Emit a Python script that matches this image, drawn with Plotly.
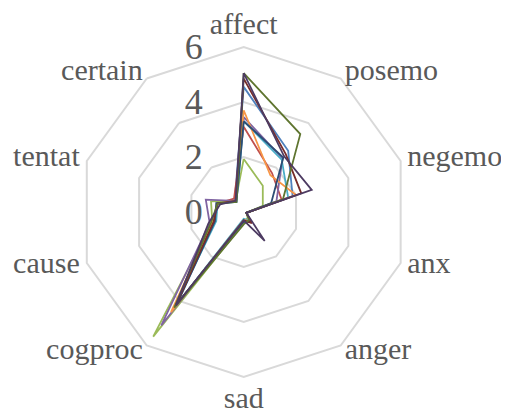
import plotly.graph_objects as go

categories = ["affect", "posemo", "negemo", "anx", "anger", "sad",
              "cogproc", "cause", "tentat", "certain"]

# one list per series, in category order
s_blue = [4.55, 2.75, 1.87, 0.1, 0.35, 0.3, 4.3, 1.1, 1.0, 0.55]
s_red = [3.1, 1.75, 1.45, 0.1, 0.45, 0.3, 4.2, 1.15, 1.0, 0.6]
s_green = [1.93, 1.18, 0.73, 0.1, 0.25, 0.4, 5.6, 1.2, 1.25, 0.5]
s_purple = [3.45, 2.4, 1.25, 0.1, 0.35, 0.3, 5.1, 1.3, 1.45, 0.5]
s_aqua = [3.3, 2.35, 1.7, 0.1, 0.4, 0.25, 4.3, 1.05, 1.0, 0.45]
s_orange = [3.7, 1.65, 2.0, 0.1, 0.4, 0.3, 4.5, 1.2, 1.0, 0.5]
s_darkblue = [3.3, 2.45, 1.05, 0.1, 0.45, 0.35, 4.1, 1.1, 1.05, 0.45]
s_darkred = [4.85, 2.6, 2.2, 0.1, 0.5, 0.3, 4.2, 1.15, 1.0, 0.5]
s_darkgreen = [5.05, 3.5, 1.5, 0.1, 0.35, 0.45, 4.3, 1.25, 1.0, 0.45]
s_darkpurple = [5.05, 2.5, 2.6, 0.1, 1.3, 0.3, 4.2, 1.35, 0.9, 0.5]

series = [
    (s_blue, "#4F81BD"),
    (s_red, "#C0504D"),
    (s_green, "#9BBB59"),
    (s_purple, "#8064A2"),
    (s_aqua, "#4BACC6"),
    (s_orange, "#F79646"),
    (s_darkblue, "#2C4D75"),
    (s_darkred, "#772C2A"),
    (s_darkgreen, "#5F7530"),
    (s_darkpurple, "#4D3B62"),
]

fig = go.Figure()
for vals, col in series:
    fig.add_trace(go.Scatterpolar(
        r=vals + vals[:1],
        theta=categories + categories[:1],
        mode="lines",
        line=dict(color=col, width=1.8),
        showlegend=False,
        hoverinfo="skip",
    ))

# category labels, placed like Excel does: just outside the outer vertex
label_r = [6.75, 6.25, 6.25, 6.25, 6.25, 6.85, 6.25, 6.27, 6.27, 6.25]
label_pos = ["middle center", "middle right", "middle right", "middle right",
             "middle right", "middle center", "middle left", "middle left",
             "middle left", "middle left"]
fig.add_trace(go.Scatterpolar(
    r=label_r,
    theta=categories,
    mode="text",
    text=categories,
    textposition=label_pos,
    textfont=dict(size=30, color="#595959", family="Liberation Serif"),
    cliponaxis=False,
    showlegend=False,
    hoverinfo="skip",
))

fig.update_layout(
    width=509,
    height=417,
    margin=dict(l=0, r=0, t=0, b=0),
    paper_bgcolor="white",
    plot_bgcolor="white",
    font=dict(family="Liberation Serif", color="#595959"),
    polar=dict(
        # radius is set by the x span; y span is taller so nothing clips
        domain=dict(x=[0.0849, 0.8413], y=[0.0216, 1.0]),
        bgcolor="white",
        gridshape="linear",
        radialaxis=dict(
            range=[0, 7],
            tickvals=[0, 2, 4, 6],
            angle=90,
            tickangle=90,
            side="counterclockwise",
            showline=False,
            ticks="outside",
            ticklen=28,
            tickcolor="rgba(0,0,0,0)",
            gridcolor="#D9D9D9",
            gridwidth=1.5,
            tickfont=dict(size=36, color="#595959", family="Liberation Serif"),
        ),
        angularaxis=dict(
            rotation=90,
            direction="clockwise",
            showgrid=False,
            showline=False,
            ticks="",
            showticklabels=False,
        ),
    ),
)

fig.write_html("out.html")
